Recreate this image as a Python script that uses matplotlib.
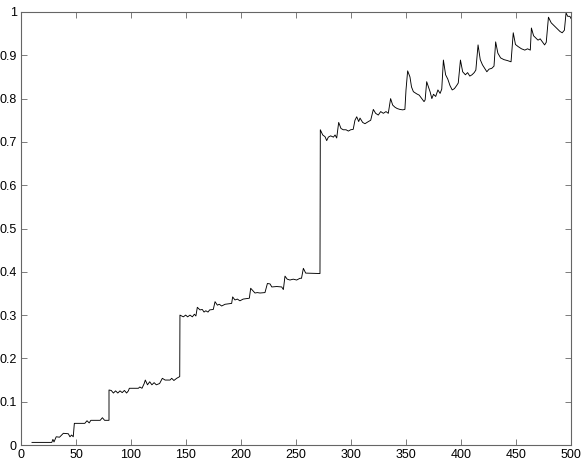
import matplotlib
matplotlib.use("Agg")
import matplotlib.pyplot as plt
import numpy as np

plt.rcParams["font.family"] = ["Liberation Sans", "DejaVu Sans"]

# values, plateau by plateau
x_low = [10, 28, 29, 30, 32, 35, 38.5, 43, 44.5, 46, 47.5, 48, 48.5, 58, 60, 62, 63.5,
         72, 74, 76, 80, 80, 82, 84, 86, 88, 90, 92, 94, 96, 97.6, 98.5, 106.7, 108,
         110, 112, 113, 115, 117, 119, 121, 123, 126, 128.5, 131, 135.5, 137, 139,
         141.5, 144.3]
y_low = [0.006, 0.006, 0.013, 0.007, 0.019, 0.018, 0.027, 0.026, 0.019, 0.023, 0.019,
         0.035, 0.050, 0.050, 0.056, 0.051, 0.057, 0.057, 0.063, 0.057, 0.057, 0.127,
         0.126, 0.120, 0.125, 0.120, 0.125, 0.121, 0.126, 0.120, 0.125, 0.131, 0.131,
         0.134, 0.131, 0.142, 0.150, 0.139, 0.146, 0.139, 0.144, 0.139, 0.142, 0.154,
         0.150, 0.150, 0.154, 0.149, 0.154, 0.158]

x_mid = [144.5, 147.6, 149.7, 151.5, 153.6, 155.8, 157.6, 159, 160.3, 162.7, 164.8,
         166.4, 168, 170, 171.5, 174.8, 176.4, 178.5, 180.3, 182.4, 185.5, 191.5,
         192.4, 194.5, 196.7, 199, 202, 207.6, 208.8, 210.6, 212.7, 214.8, 217.3,
         221.8, 224, 226.4, 228, 232.5, 237, 238.5, 240, 242, 244.5, 247.5, 250.6,
         253.6, 255, 256.7, 258.8, 271.8]
y_mid = [0.300, 0.296, 0.300, 0.296, 0.300, 0.296, 0.302, 0.298, 0.318, 0.312, 0.313,
         0.307, 0.310, 0.307, 0.312, 0.313, 0.331, 0.323, 0.325, 0.321, 0.325, 0.327,
         0.342, 0.335, 0.337, 0.333, 0.337, 0.339, 0.362, 0.357, 0.351, 0.352, 0.351,
         0.352, 0.373, 0.372, 0.365, 0.366, 0.365, 0.359, 0.390, 0.383, 0.381, 0.383,
         0.381, 0.385, 0.385, 0.408, 0.397, 0.396]

x_high = [272.1, 274.3, 276.4, 277.9, 279.4, 281.5, 284, 285.5, 287, 288.8, 290.9,
          293, 295.5, 297.6, 299.7, 302, 303.6, 305.2, 307, 308.2, 310.6, 312.7,
          315.8, 317.9, 320.3, 322.4, 324.8, 327, 329.4, 331.8, 333.9, 336, 337.9,
          340, 342, 344.5, 347, 349, 350, 351.5, 353.6, 355, 356.7, 359.7, 362,
          364.3, 366.4, 367.4, 368.8]
y_high = [0.728, 0.716, 0.712, 0.703, 0.711, 0.714, 0.711, 0.716, 0.709, 0.745, 0.731,
          0.728, 0.728, 0.725, 0.728, 0.729, 0.750, 0.758, 0.747, 0.755, 0.745, 0.742,
          0.747, 0.750, 0.775, 0.766, 0.762, 0.770, 0.766, 0.770, 0.766, 0.800, 0.785,
          0.780, 0.777, 0.775, 0.774, 0.775, 0.820, 0.864, 0.850, 0.827, 0.816, 0.811,
          0.808, 0.800, 0.793, 0.797, 0.839]

x_top = [370, 372, 373.5, 375, 377, 379, 381, 382.5, 384, 386, 388, 390, 392, 394, 396,
         397.5, 399.5, 401.5, 404, 406, 408, 410, 412, 413.5, 415.5, 417.5, 419.5,
         421.5, 423.5, 425.5, 428, 430, 431.5, 433.5, 436, 439, 442, 445.5, 447.5,
         449.5, 452, 455, 458, 460.5, 463, 464, 466, 468, 470, 472, 474, 476, 477.5,
         479.5, 482, 484, 486, 488, 490, 492, 494, 495.5, 497, 499, 500]
y_top = [0.830, 0.815, 0.800, 0.810, 0.805, 0.820, 0.812, 0.822, 0.889, 0.855, 0.845,
         0.830, 0.820, 0.823, 0.830, 0.836, 0.889, 0.862, 0.855, 0.860, 0.852, 0.855,
         0.860, 0.866, 0.924, 0.890, 0.878, 0.870, 0.862, 0.868, 0.870, 0.875, 0.931,
         0.905, 0.894, 0.890, 0.888, 0.885, 0.952, 0.925, 0.920, 0.915, 0.912, 0.915,
         0.912, 0.963, 0.945, 0.940, 0.935, 0.938, 0.931, 0.924, 0.930, 0.988, 0.975,
         0.970, 0.965, 0.960, 0.955, 0.952, 0.958, 0.998, 0.990, 0.990, 0.985]

x = x_low + x_mid + x_high + x_top
y = y_low + y_mid + y_high + y_top

fig = plt.figure(figsize=(5.85, 4.63), dpi=100)
ax = fig.add_axes([21 / 585, 1 - 445 / 463, 550 / 585, 433 / 463])
ax.plot(x, y, color="black", lw=0.65)
ax.set_xlim(0, 500)
ax.set_ylim(0, 1)
ax.set_xticks(np.arange(0, 501, 50))
ax.set_yticks(np.arange(0, 1.01, 0.1))
ax.set_yticklabels(["0", "0.1", "0.2", "0.3", "0.4", "0.5", "0.6", "0.7", "0.8", "0.9", "1"])
ax.tick_params(direction="in", top=True, right=True, length=4, width=0.6,
               color="0.4", labelsize=9, pad=3)
for s in ax.spines.values():
    s.set_linewidth(0.8)
    s.set_color("0.4")

fig.savefig("out.png", dpi=100)
